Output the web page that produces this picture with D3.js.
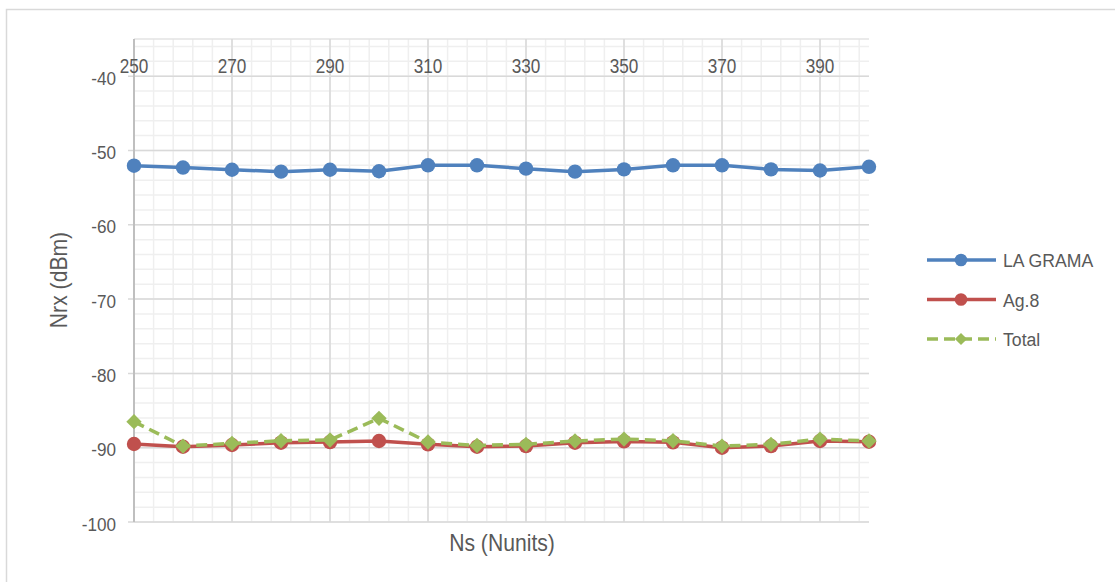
<!DOCTYPE html>
<html>
<head>
<meta charset="utf-8">
<script src="https://cdn.jsdelivr.net/npm/d3@7"></script>
<style>
  html, body { margin: 0; padding: 0; background: #fff; }
  svg { display: block; font-family: "Liberation Sans", Arial, sans-serif; }
</style>
</head>
<body>
<svg id="chart" width="1115" height="582"></svg>
<script>
// ---- Data ----
const ns = [250, 260, 270, 280, 290, 300, 310, 320, 330, 340, 350, 360, 370, 380, 390, 400];
const laGrama = [-52.05, -52.3, -52.6, -52.85, -52.6, -52.8, -52.0, -52.0, -52.45, -52.85, -52.55, -52.0, -52.0, -52.55, -52.7, -52.2];
const ag8 = [-89.5, -89.87, -89.64, -89.33, -89.24, -89.1, -89.55, -89.87, -89.78, -89.33, -89.15, -89.28, -90.0, -89.78, -89.1, -89.2];
const total = [-86.5, -89.78, -89.42, -89.07, -88.97, -86.05, -89.24, -89.7, -89.55, -89.1, -88.84, -89.07, -89.78, -89.55, -88.84, -89.1];
const xTicks = [250, 270, 290, 310, 330, 350, 370, 390];
const yTicks = [-40, -50, -60, -70, -80, -90, -100];
const seriesNames = ["LA GRAMA", "Ag.8", "Total"];
const colors = ["#4f81bd", "#c0504d", "#9bbb59"];

const svg = d3.select("#chart");
const pL = 134, pR = 869, pT = 39, pB = 522;
const x = d3.scaleLinear().domain([250, 400]).range([pL, pR]);
const y = d3.scaleLinear().domain([-100, -35]).range([pB, pT]);
const textColor = "#595959";

// outer border
svg.append("rect").attr("x", 6.5).attr("y", 9.5).attr("width", 1120).attr("height", 600)
  .attr("fill", "none").attr("stroke", "#d9d9d9").attr("stroke-width", 1.5);

// minor gridlines
const g = svg.append("g");
g.selectAll("line.vminor").data(d3.range(250, 401, 4)).join("line")
  .attr("x1", d => x(d)).attr("x2", d => x(d)).attr("y1", pT).attr("y2", pB)
  .attr("stroke", "#efefef").attr("stroke-width", 1.5);
g.selectAll("line.hminor").data(d3.range(-100, -34, 2)).join("line")
  .attr("y1", d => y(d)).attr("y2", d => y(d)).attr("x1", pL).attr("x2", pR)
  .attr("stroke", "#efefef").attr("stroke-width", 1.5);
// top edge
g.append("line").attr("x1", pL).attr("x2", pR).attr("y1", pT).attr("y2", pT)
  .attr("stroke", "#e3e3e3").attr("stroke-width", 1.5);
// major gridlines
g.selectAll("line.vmajor").data(xTicks).join("line")
  .attr("x1", d => x(d)).attr("x2", d => x(d)).attr("y1", pT).attr("y2", pB)
  .attr("stroke", "#d9d9d9").attr("stroke-width", 1.5);
g.selectAll("line.hmajor").data(yTicks).join("line")
  .attr("y1", d => y(d)).attr("y2", d => y(d)).attr("x1", pL - 6).attr("x2", pR)
  .attr("stroke", "#d9d9d9").attr("stroke-width", 1.5);
// left axis line
g.append("line").attr("x1", pL).attr("x2", pL).attr("y1", pT).attr("y2", pB)
  .attr("stroke", "#bfbfbf").attr("stroke-width", 2);

// y tick labels
svg.append("g").selectAll("text").data(yTicks).join("text")
  .attr("transform", d => `translate(116,${y(d) + 8.5}) scale(0.9,1)`)
  .attr("text-anchor", "end").attr("font-size", 19).attr("fill", textColor)
  .text(d => d);
// x tick labels (top)
svg.append("g").selectAll("text").data(xTicks).join("text")
  .attr("transform", d => `translate(${x(d)},72.5) scale(0.88,1)`)
  .attr("text-anchor", "middle").attr("font-size", 19.5).attr("fill", textColor)
  .text(d => d);

// axis titles
svg.append("text").attr("transform", "translate(67,280) rotate(-90) scale(0.9,1)")
  .attr("text-anchor", "middle").attr("font-size", 23.5).attr("fill", textColor)
  .text("Nrx (dBm)");
svg.append("text").attr("transform", "translate(502,551) scale(0.9,1)")
  .attr("text-anchor", "middle").attr("font-size", 23.5).attr("fill", textColor)
  .text("Ns (Nunits)");

// series
const data = [laGrama, ag8, total];
const line = d3.line().x((d, i) => x(ns[i])).y(d => y(d));
data.forEach((vals, k) => {
  const sg = svg.append("g");
  sg.append("path").datum(vals).attr("d", line)
    .attr("fill", "none").attr("stroke", colors[k]).attr("stroke-width", 3.5)
    .attr("stroke-linejoin", "round")
    .attr("stroke-dasharray", k === 2 ? "11,6" : null);
  if (k < 2) {
    sg.selectAll("circle").data(vals).join("circle")
      .attr("cx", (d, i) => x(ns[i])).attr("cy", d => y(d)).attr("r", 7.2)
      .attr("fill", colors[k]);
  } else {
    sg.selectAll("path.m").data(vals).join("path")
      .attr("class", "m")
      .attr("transform", (d, i) => `translate(${x(ns[i])},${y(d)})`)
      .attr("d", d3.symbol().type(d3.symbolDiamond2).size(150))
      .attr("fill", colors[k]);
  }
});

// legend
const lg = svg.append("g");
seriesNames.forEach((name, k) => {
  const ly = 260 + k * 39.5;
  lg.append("line").attr("x1", 927).attr("x2", 996).attr("y1", ly).attr("y2", ly)
    .attr("stroke", colors[k]).attr("stroke-width", 3.5)
    .attr("stroke-dasharray", k === 2 ? "11,6" : null);
  if (k < 2) {
    lg.append("circle").attr("cx", 961).attr("cy", ly).attr("r", 6.3).attr("fill", colors[k]);
  } else {
    lg.append("path").attr("transform", `translate(961,${ly})`)
      .attr("d", d3.symbol().type(d3.symbolDiamond2).size(95)).attr("fill", colors[k]);
  }
  lg.append("text").attr("transform", `translate(1003,${ly + 7}) scale(0.93,1)`)
    .attr("font-size", 19).attr("fill", textColor).text(name);
});
</script>
</body>
</html>
